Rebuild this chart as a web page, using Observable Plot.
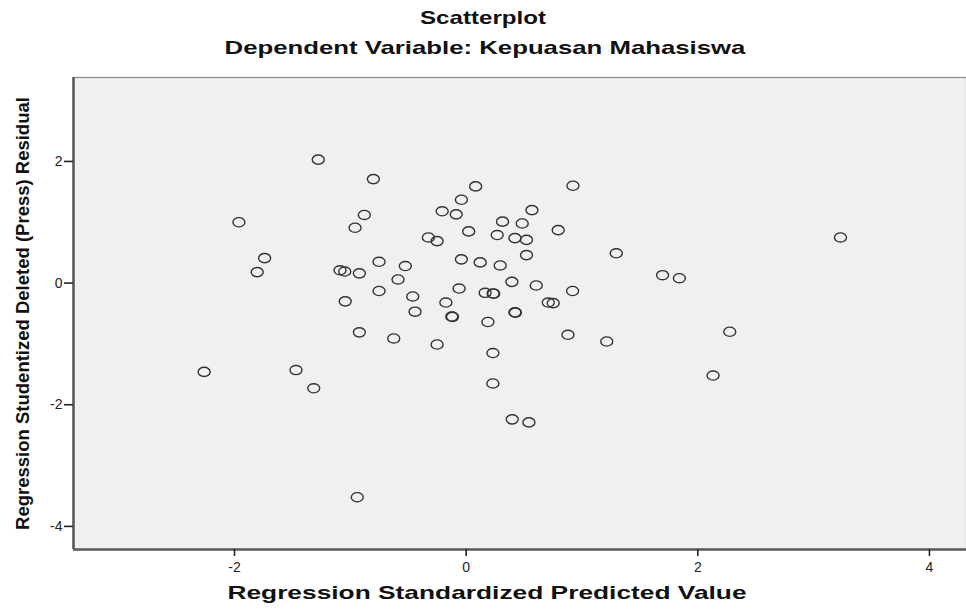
<!DOCTYPE html>
<html>
<head>
<meta charset="utf-8">
<script src="https://cdn.jsdelivr.net/npm/d3@7"></script>
<script src="https://cdn.jsdelivr.net/npm/@observablehq/plot@0.6"></script>
<style>
  html, body { margin: 0; padding: 0; background: #fff; }
  #wrap { position: relative; width: 966px; height: 611px; font-family: "Liberation Sans", Arial, sans-serif; color: #111; }
  .t { position: absolute; left: 0; width: 966px; text-align: center; font-weight: bold; white-space: nowrap; }
  #title { top: 7px; font-size: 19px; line-height: 22px; transform: scaleX(1.27); }
  #subtitle { top: 37px; font-size: 19px; line-height: 22px; transform: translateX(2px) scaleX(1.355); }
  #xlabel { top: 582px; font-size: 19px; line-height: 22px; transform: translateX(4px) scaleX(1.385); }
  #chart { position: absolute; left: 0; top: 65px; }
  #chart svg g[aria-label="y-axis label"] text { font-weight: bold; font-size: 18.5px; fill: #111; }
</style>
</head>
<body>
<div id="wrap">
  <div id="title" class="t">Scatterplot</div>
  <div id="subtitle" class="t">Dependent Variable: Kepuasan Mahasiswa</div>
  <div id="chart"></div>
  <div id="xlabel" class="t">Regression Standardized Predicted Value</div>
</div>
<script>
// Regression standardized predicted value (x) and studentized deleted residual (y)
const predicted = [
  -1.277, -0.801, 0.082, -0.041, -0.207, -0.086, -1.962, -0.879, -0.959, 0.022,
  -0.326, -0.251, -1.740, -1.804, -1.089, -1.048, -0.922, -0.752, -0.525, -0.588,
  -0.041, 0.121, -0.752, -0.461, -0.061, -0.175, -1.044, -0.441, -0.124, -0.118,
  0.922, 0.568, 0.314, 0.484, 0.268, 0.421, 0.521, 0.795, 0.521, 1.296,
  0.294, 1.696, 1.841, 0.395, 0.605, 0.164, 0.233, 0.238, 0.919, 0.709,
  0.752, 0.421, 0.425, 0.188, -0.922, -0.625, -0.251, 0.231, 0.879, 1.214,
  2.132, 2.276, 3.232, -2.262, -1.469, -1.316, 0.231, 0.398, 0.542, -0.940
];
const residual = [
  2.03, 1.71, 1.59, 1.37, 1.18, 1.13, 1.00, 1.12, 0.91, 0.85,
  0.75, 0.69, 0.41, 0.18, 0.21, 0.19, 0.16, 0.35, 0.28, 0.06,
  0.39, 0.34, -0.13, -0.22, -0.09, -0.32, -0.30, -0.47, -0.55, -0.555,
  1.60, 1.20, 1.01, 0.98, 0.79, 0.74, 0.71, 0.87, 0.46, 0.49,
  0.29, 0.13, 0.08, 0.02, -0.04, -0.16, -0.17, -0.175, -0.13, -0.32,
  -0.33, -0.48, -0.485, -0.64, -0.81, -0.91, -1.01, -1.15, -0.85, -0.96,
  -1.52, -0.80, 0.75, -1.46, -1.43, -1.73, -1.65, -2.24, -2.29, -3.52
];
const xTicks = [-2, 0, 2, 4];
const yTicks = [-4, -2, 0, 2];
const xDomain = [-3.39, 4.32];
const yDomain = [-4.38, 3.38];

const points = predicted.map((x, i) => ({x, y: residual[i]}));

// open elliptical marker (SPSS-style circle, slightly flattened)
const ellipse = {
  draw(ctx) {
    const rx = 6, ry = 4.6, k = 0.5523;
    ctx.moveTo(rx, 0);
    ctx.bezierCurveTo(rx, ry * k, rx * k, ry, 0, ry);
    ctx.bezierCurveTo(-rx * k, ry, -rx, ry * k, -rx, 0);
    ctx.bezierCurveTo(-rx, -ry * k, -rx * k, -ry, 0, -ry);
    ctx.bezierCurveTo(rx * k, -ry, rx, -ry * k, rx, 0);
    ctx.closePath();
  }
};

const fmt = d => String(d);

const chart = Plot.plot({
  width: 966,
  height: 515,
  marginLeft: 73,
  marginRight: 0,
  marginTop: 12,
  marginBottom: 31,
  style: {fontFamily: "'Liberation Sans', Arial, sans-serif", fontSize: "14px", color: "#222", background: "transparent"},
  x: {domain: xDomain},
  y: {domain: yDomain},
  marks: [
    Plot.frame({fill: "#f0f0f0", stroke: "#8a8a8a", strokeWidth: 1.2}),
    Plot.ruleX([xDomain[0]], {stroke: "#5a5a5a", strokeWidth: 2.6}),
    Plot.ruleY([yDomain[0]], {stroke: "#5a5a5a", strokeWidth: 2.6}),
    Plot.axisX({ticks: xTicks, tickSize: 7, tickPadding: 6, tickFormat: fmt, label: null, strokeWidth: 1.6}),
    Plot.axisY({ticks: yTicks, tickSize: 9, tickPadding: 2, tickFormat: fmt, label: "Regression Studentized Deleted (Press) Residual", labelAnchor: "center", labelArrow: "none", labelOffset: 58, strokeWidth: 1.6}),
    Plot.dot(points, {x: "x", y: "y", symbol: ellipse, stroke: "#333", strokeWidth: 1.4, fill: "none"})
  ]
});
document.getElementById("chart").appendChild(chart);
</script>
</body>
</html>
